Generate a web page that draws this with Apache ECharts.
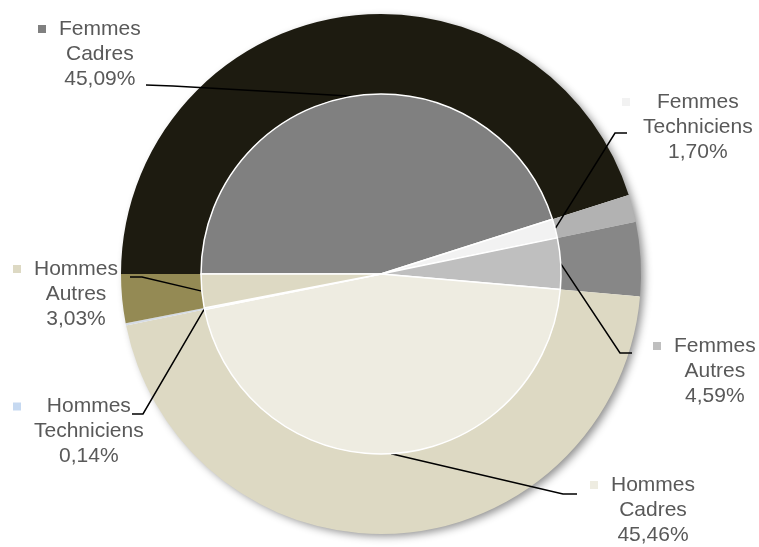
<!DOCTYPE html>
<html>
<head>
<meta charset="utf-8">
<script src="https://cdn.jsdelivr.net/npm/echarts@6/dist/echarts.min.js"></script>
<style>
  html, body { margin: 0; padding: 0; background: #ffffff; }
  #chart { width: 759px; height: 547px; }
</style>
</head>
<body>
<div id="chart"></div>
<script>
// Répartition des effectifs par sexe et catégorie (en %)
const categories = ['Femmes Cadres', 'Femmes Techniciens', 'Femmes Autres',
                    'Hommes Cadres', 'Hommes Techniciens', 'Hommes Autres'];
const shares = [45.09, 1.70, 4.59, 45.46, 0.14, 3.03];

// Colours of the inner pie and of the surrounding ring
const innerColors = ['#808080', '#f2f2f2', '#bfbfbf', '#eeece1', '#c6d9f1', '#ddd9c3'];
const outerColors = ['#1d1b10', '#b2b2b2', '#878787', '#ddd9c3', '#d5dbe4', '#948a54'];

// Where each label block sits (marker's left edge, block top) and its leader bend/end
const labelPlacement = [
  { x: 38,  y: 16.5,  bend: [173, 86],  end: [146, 85] },
  { x: 622, y: 89.5,  bend: [615, 133], end: [627, 133] },
  { x: 653, y: 333.5, bend: [620, 353], end: [632, 353] },
  { x: 590, y: 472.5, bend: [563, 494], end: [577, 494] },
  { x: 13,  y: 394,   bend: [143, 414], end: [132, 414] },
  { x: 13,  y: 256.5, bend: [142, 277], end: [130, 277] }
];

const CENTER = [381, 274];
const TEXT = {
  fontFamily: '"Liberation Sans", Arial, sans-serif',
  fontSize: 21,
  color: '#595959',
  lineHeight: 25,
  align: 'center'
};

function pct(v) {
  return v.toFixed(2).replace('.', ',') + '%';
}

const total = shares.reduce(function (a, b) { return a + b; }, 0);

const innerData = categories.map(function (name, i) {
  return {
    name: name,
    value: shares[i],
    itemStyle: { color: innerColors[i] },
    label: {
      rich: {
        m: { width: 8, height: 8, backgroundColor: innerColors[i], align: 'left' },
        g: { width: 13, align: 'left' },
        e: { width: 21, align: 'left' },
        t: TEXT
      }
    }
  };
});

const outerData = categories.map(function (name, i) {
  return { name: name, value: shares[i], itemStyle: { color: outerColors[i] } };
});

const chart = echarts.init(document.getElementById('chart'), null, { renderer: 'canvas' });

chart.setOption({
  animation: false,
  backgroundColor: '#ffffff',
  series: [
    {
      // soft drop shadow under the whole disc
      type: 'pie',
      name: 'ombre',
      center: CENTER,
      radius: [0, 259],
      silent: true,
      label: { show: false },
      labelLine: { show: false },
      itemStyle: {
        color: '#ffffff',
        borderWidth: 0,
        shadowBlur: 9,
        shadowOffsetX: 4,
        shadowOffsetY: 3,
        shadowColor: 'rgba(0,0,0,0.45)'
      },
      data: [{ name: 'total', value: total }],
      z: 0
    },
    {
      type: 'pie',
      name: 'anneau',
      center: CENTER,
      radius: [180, 260],
      startAngle: 180,
      clockwise: true,
      silent: true,
      label: { show: false },
      labelLine: { show: false },
      itemStyle: { borderWidth: 0 },
      data: outerData,
      z: 1
    },
    {
      type: 'pie',
      name: 'effectifs',
      center: CENTER,
      radius: [0, 180],
      startAngle: 180,
      clockwise: true,
      silent: true,
      avoidLabelOverlap: false,
      itemStyle: { borderColor: '#ffffff', borderWidth: 1.5 },
      label: {
        show: true,
        position: 'outside',
        formatter: function (p) {
          const words = p.name.split(' ');
          return '{m| }{g| }{t|' + words[0] + '}\n' +
                 '{e| }{t|' + words[1] + '}\n' +
                 '{e| }{t|' + pct(p.value) + '}';
        }
      },
      labelLine: {
        show: true,
        length: 10,
        length2: 10,
        lineStyle: { color: '#000000', width: 1.5 }
      },
      labelLayout: function (params) {
        const cfg = labelPlacement[params.dataIndex];
        const start = params.labelLinePoints ? params.labelLinePoints[0] : cfg.bend;
        return {
          x: cfg.x,
          y: cfg.y,
          align: 'left',
          verticalAlign: 'top',
          labelLinePoints: [start, cfg.bend, cfg.end]
        };
      },
      data: innerData,
      z: 2
    }
  ]
});
</script>
</body>
</html>
